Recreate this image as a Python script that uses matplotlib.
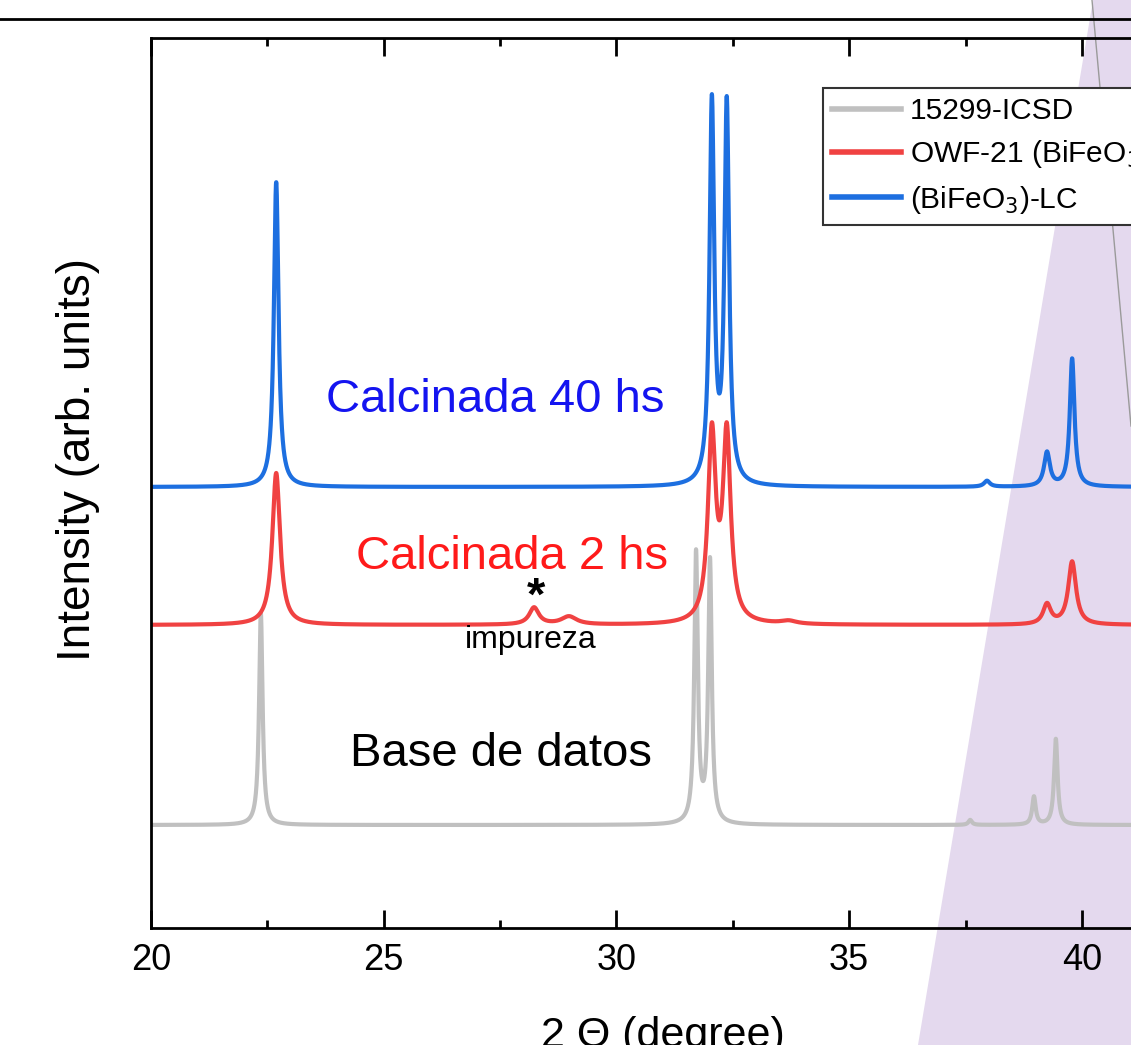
import numpy as np
import matplotlib.pyplot as plt
from matplotlib.patches import Polygon
from matplotlib.lines import Line2D

# Picos (posicion 2theta, altura, ancho FWHM) de cada difractograma
pos_icsd = [22.36, 31.71, 32.01, 37.60, 38.97, 39.44]
amp_icsd = [212, 270, 262, 5, 28, 86]
fwhm_icsd = [0.09, 0.09, 0.09, 0.09, 0.09, 0.09]

pos_2hs = [22.69, 28.23, 28.98, 32.05, 32.37, 33.70, 39.25, 39.79]
amp_2hs = [152, 17, 8, 186, 186, 3, 20, 63]
fwhm_2hs = [0.20, 0.25, 0.40, 0.20, 0.20, 0.40, 0.20, 0.20]

pos_40hs = [22.69, 32.05, 32.37, 37.96, 39.25, 39.79]
amp_40hs = [305, 380, 378, 6, 34, 128]
fwhm_40hs = [0.12, 0.12, 0.12, 0.15, 0.15, 0.12]

# desplazamiento vertical de cada curva
base_icsd = 103
base_2hs = 303
base_40hs = 441


def patron(x, pos, amp, fwhm, base):
    """Suma de lorentzianas sobre una linea de base"""
    y = np.full_like(x, float(base))
    for p, a, w in zip(pos, amp, fwhm):
        y += a / (1 + (2 * (x - p) / w) ** 2)
    return y


x = np.linspace(20, 42, 6000)
y_icsd = patron(x, pos_icsd, amp_icsd, fwhm_icsd, base_icsd)
y_2hs = patron(x, pos_2hs, amp_2hs, fwhm_2hs, base_2hs)
y_40hs = patron(x, pos_40hs, amp_40hs, fwhm_40hs, base_40hs)

W, H = 1131, 1045
fig = plt.figure(figsize=(W / 100, H / 100), dpi=100)
plt.rcParams['font.family'] = ['Liberation Sans', 'DejaVu Sans']

# fondo violeta de la diapositiva
fig.patches.append(Polygon([(1093 / W, 1), (1, 1), (1, 0), (918 / W, 0)],
                           closed=True, transform=fig.transFigure,
                           facecolor='#e4d9ee', edgecolor='none', zorder=-2))
fig.lines.append(Line2D([1092 / W, 1], [1, 1 - 426 / H], transform=fig.transFigure,
                        color='#9a9a9a', lw=1, zorder=-1))
fig.lines.append(Line2D([0, 1], [1 - 19 / H, 1 - 19 / H], transform=fig.transFigure,
                        color='black', lw=2, zorder=3))

ax = fig.add_axes([151 / W, 1 - 928 / H, 1024 / W, 890 / H])
ax.patch.set_alpha(0)

ax.plot(x, y_icsd, color='#c0c0c0', lw=3, label='15299-ICSD')
ax.plot(x, y_2hs, color='#f04242', lw=3, label='OWF-21 (BiFeO$_3$)')
ax.plot(x, y_40hs, color='#1d6fe0', lw=3, label='(BiFeO$_3$)-LC')

ax.set_xlim(20, 42)
ax.set_ylim(0, 890)
ax.set_yticks([])
ax.set_xticks([20, 25, 30, 35, 40])
ax.set_xticks([22.5, 27.5, 32.5, 37.5], minor=True)
ax.tick_params(axis='x', which='both', direction='in', top=True, width=2)
ax.tick_params(axis='x', which='major', length=13, pad=11, labelsize=26)
ax.tick_params(axis='x', which='minor', length=6)
for s in ax.spines.values():
    s.set_linewidth(2)

ax.set_xlabel('2 Θ (degree)', fontsize=31, labelpad=27)
ax.set_ylabel('Intensity (arb. units)', fontsize=33)
ax.yaxis.set_label_coords(-0.050, 0.526)

ax.text(27.39, 528, 'Calcinada 40 hs', color='#1414f0', fontsize=34,
        ha='center', va='center')
ax.text(27.76, 371, 'Calcinada 2 hs', color='#ff1a1a', fontsize=34,
        ha='center', va='center')
ax.text(27.52, 174, 'Base de datos', color='black', fontsize=34,
        ha='center', va='center')
ax.text(28.16, 288, 'impureza', color='black', fontsize=23,
        ha='center', va='center')
ax.text(28.27, 330, '*', color='black', fontsize=34, fontweight='bold',
        ha='center', va='center')

leg = ax.legend(loc='upper left', bbox_to_anchor=((823 - 151) / 1024, 1 - 50 / 890),
                fontsize=21.5, handlelength=2.3, handletextpad=0.3,
                borderaxespad=0, borderpad=0.3, labelspacing=0.45,
                fancybox=False, edgecolor='#333333', framealpha=1)
leg.get_frame().set_linewidth(1.5)
for h in leg.get_lines():
    h.set_linewidth(4)

fig.savefig('out.png', dpi=100)
